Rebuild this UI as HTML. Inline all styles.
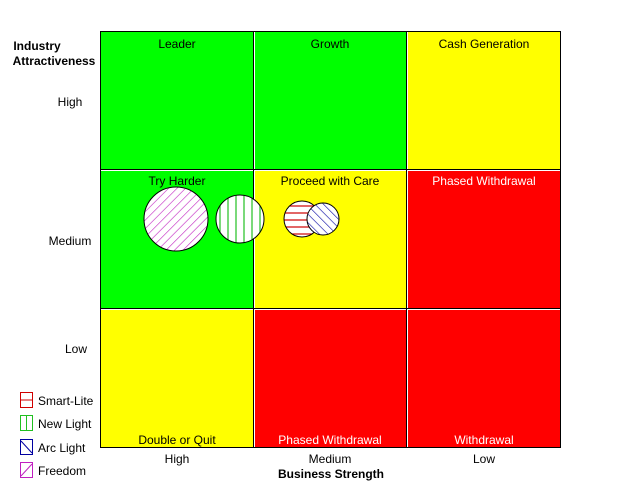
<!DOCTYPE html>
<html><head><style>
body{margin:0;background:#fff;}
svg{display:block;font-family:"Liberation Sans",Arial,sans-serif;}
</style></head><body>
<svg width="622" height="502" xmlns="http://www.w3.org/2000/svg">
<defs>
<pattern id="pF" width="6" height="6" patternUnits="userSpaceOnUse" patternTransform="rotate(45)"><rect width="6" height="6" fill="#fff"/><line x1="0" y1="0" x2="0" y2="6" stroke="#c020c0" stroke-width="1.2"/></pattern>
<pattern id="pN" width="8" height="8" patternUnits="userSpaceOnUse"><rect width="8" height="8" fill="#fff"/><line x1="4" y1="0" x2="4" y2="8" stroke="#20c020" stroke-width="1.2"/></pattern>
<pattern id="pS" width="8" height="7" patternUnits="userSpaceOnUse"><rect width="8" height="7" fill="#fff"/><line x1="0" y1="3" x2="8" y2="3" stroke="#d00000" stroke-width="1.2"/></pattern>
<pattern id="pA" width="6" height="6" patternUnits="userSpaceOnUse" patternTransform="rotate(-45)"><rect width="6" height="6" fill="#fff"/><line x1="0" y1="0" x2="0" y2="6" stroke="#0000a0" stroke-width="1.2"/></pattern>
</defs>
<rect x="100" y="31" width="461" height="417" fill="#000"/>
<rect x="101" y="32" width="459" height="415" fill="#fff"/>
<rect x="101" y="32" width="152" height="137" fill="#00ff00"/>
<rect x="255" y="32" width="151" height="137" fill="#00ff00"/>
<rect x="408" y="32" width="152" height="137" fill="#ffff00"/>
<rect x="101" y="171" width="152" height="137" fill="#00ff00"/>
<rect x="255" y="171" width="151" height="137" fill="#ffff00"/>
<rect x="408" y="171" width="152" height="137" fill="#ff0000"/>
<rect x="101" y="310" width="152" height="137" fill="#ffff00"/>
<rect x="255" y="310" width="151" height="137" fill="#ff0000"/>
<rect x="408" y="310" width="152" height="137" fill="#ff0000"/>
<g stroke="#000" stroke-width="1">
<line x1="253.5" y1="32" x2="253.5" y2="447"/>
<line x1="406.5" y1="32" x2="406.5" y2="447"/>
<line x1="101" y1="169.5" x2="560" y2="169.5"/>
<line x1="101" y1="308.5" x2="560" y2="308.5"/>
</g>
<g font-size="12" text-anchor="middle" fill="#000">
<text x="177" y="48">Leader</text>
<text x="330" y="48">Growth</text>
<text x="484" y="48">Cash Generation</text>
<text x="177" y="185">Try Harder</text>
<text x="330" y="185">Proceed with Care</text>
<text x="484" y="185" fill="#fff">Phased Withdrawal</text>
<text x="177" y="444">Double or Quit</text>
<text x="330" y="444" fill="#fff">Phased Withdrawal</text>
<text x="484" y="444" fill="#fff">Withdrawal</text>
<text x="177" y="463">High</text>
<text x="330" y="463">Medium</text>
<text x="484" y="463">Low</text>
<text x="331" y="478" font-weight="bold">Business Strength</text>
<text x="70" y="106">High</text>
<text x="70" y="245">Medium</text>
<text x="76" y="353">Low</text>
<text x="37" y="50" font-weight="bold">Industry</text>
<text x="54" y="65" font-weight="bold">Attractiveness</text>
</g>
<circle cx="176" cy="219" r="32" fill="url(#pF)" stroke="#000"/>
<circle cx="240" cy="219" r="24" fill="url(#pN)" stroke="#000"/>
<circle cx="302" cy="219" r="18" fill="url(#pS)" stroke="#000"/>
<circle cx="323" cy="219" r="16" fill="url(#pA)" stroke="#000"/>
<g font-size="12" fill="#000">
<rect x="20.5" y="392.5" width="12" height="15" fill="#fff" stroke="#d00000"/><line x1="20" y1="400" x2="33" y2="400" stroke="#d00000"/>
<text x="38" y="405">Smart-Lite</text>
<rect x="20.5" y="415.5" width="12" height="15" fill="#fff" stroke="#20c020"/><line x1="26.5" y1="415" x2="26.5" y2="431" stroke="#20c020"/>
<text x="38" y="428">New Light</text>
<rect x="20.5" y="439.5" width="12" height="15" fill="#fff" stroke="#0000a0"/><line x1="21" y1="441" x2="32" y2="453" stroke="#0000a0"/>
<text x="38" y="452">Arc Light</text>
<rect x="20.5" y="462.5" width="12" height="15" fill="#fff" stroke="#c020c0"/><line x1="21" y1="476" x2="32" y2="464" stroke="#c020c0"/>
<text x="38" y="475">Freedom</text>
</g>
</svg>
</body></html>
